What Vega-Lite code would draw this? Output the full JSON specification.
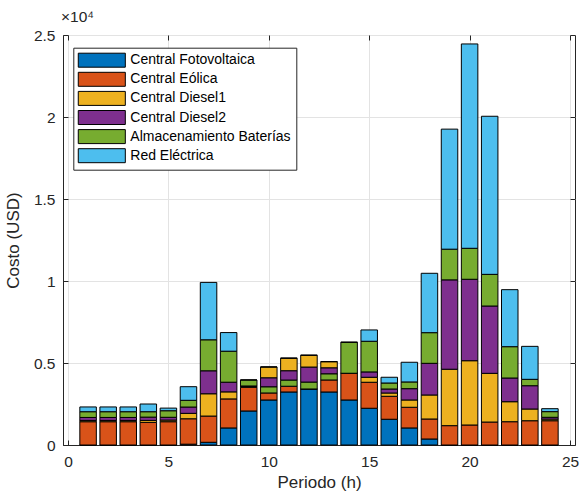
{
  "$schema": "https://vega.github.io/schema/vega-lite/v6.json",
  "width": 512,
  "height": 410,
  "autosize": {"type": "none"},
  "padding": {"left": 63, "top": 35, "right": 10, "bottom": 51},
  "background": "white",
  "config": {
    "font": "Liberation Sans",
    "view": {"stroke": "#262626", "strokeWidth": 1},
    "axis": {
      "domainColor": "#262626",
      "tickColor": "#262626",
      "labelColor": "#262626",
      "titleColor": "#262626",
      "labelFont": "Liberation Sans",
      "titleFont": "Liberation Sans",
      "labelFontSize": 15.5,
      "titleFontSize": 17,
      "titleFontWeight": "normal",
      "gridColor": "#e3e3e3",
      "gridWidth": 1,
      "tickSize": -5
    }
  },
  "title": {
    "text": "×10⁴",
    "anchor": "start",
    "frame": "group",
    "fontSize": 15.5,
    "fontWeight": "normal",
    "color": "#262626",
    "font": "Liberation Sans",
    "offset": 3,
    "dx": -2
  },
  "data": {
    "values": [
      {"Periodo": 1, "Central Fotovoltaica": 0, "Central Eólica": 1420, "Central Diesel1": 80, "Central Diesel2": 180, "Almacenamiento Baterías": 350, "Red Eléctrica": 290},
      {"Periodo": 2, "Central Fotovoltaica": 0, "Central Eólica": 1420, "Central Diesel1": 80, "Central Diesel2": 180, "Almacenamiento Baterías": 350, "Red Eléctrica": 290},
      {"Periodo": 3, "Central Fotovoltaica": 0, "Central Eólica": 1420, "Central Diesel1": 80, "Central Diesel2": 180, "Almacenamiento Baterías": 350, "Red Eléctrica": 290},
      {"Periodo": 4, "Central Fotovoltaica": 0, "Central Eólica": 1380, "Central Diesel1": 120, "Central Diesel2": 200, "Almacenamiento Baterías": 330, "Red Eléctrica": 470},
      {"Periodo": 5, "Central Fotovoltaica": 0, "Central Eólica": 1420, "Central Diesel1": 100, "Central Diesel2": 170, "Almacenamiento Baterías": 400, "Red Eléctrica": 160},
      {"Periodo": 6, "Central Fotovoltaica": 50, "Central Eólica": 1550, "Central Diesel1": 330, "Central Diesel2": 385, "Almacenamiento Baterías": 410, "Red Eléctrica": 830},
      {"Periodo": 7, "Central Fotovoltaica": 165, "Central Eólica": 1600, "Central Diesel1": 1360, "Central Diesel2": 1400, "Almacenamiento Baterías": 1890, "Red Eléctrica": 3500},
      {"Periodo": 8, "Central Fotovoltaica": 1040, "Central Eólica": 1770, "Central Diesel1": 430, "Central Diesel2": 590, "Almacenamiento Baterías": 1890, "Red Eléctrica": 1135},
      {"Periodo": 9, "Central Fotovoltaica": 2075, "Central Eólica": 1445, "Central Diesel1": 40, "Central Diesel2": 40, "Almacenamiento Baterías": 365, "Red Eléctrica": 0},
      {"Periodo": 10, "Central Fotovoltaica": 2745, "Central Eólica": 427, "Central Diesel1": 670, "Central Diesel2": 550, "Almacenamiento Baterías": 366, "Red Eléctrica": 0},
      {"Periodo": 11, "Central Fotovoltaica": 3233, "Central Eólica": 350, "Central Diesel1": 775, "Central Diesel2": 570, "Almacenamiento Baterías": 366, "Red Eléctrica": 0},
      {"Periodo": 12, "Central Fotovoltaica": 3416, "Central Eólica": 0, "Central Diesel1": 732, "Central Diesel2": 915, "Almacenamiento Baterías": 410, "Red Eléctrica": 0},
      {"Periodo": 13, "Central Fotovoltaica": 3233, "Central Eólica": 732, "Central Diesel1": 385, "Central Diesel2": 365, "Almacenamiento Baterías": 366, "Red Eléctrica": 0},
      {"Periodo": 14, "Central Fotovoltaica": 2745, "Central Eólica": 1630, "Central Diesel1": 0, "Central Diesel2": 0, "Almacenamiento Baterías": 1890, "Red Eléctrica": 0},
      {"Periodo": 15, "Central Fotovoltaica": 2240, "Central Eólica": 1586, "Central Diesel1": 305, "Central Diesel2": 325, "Almacenamiento Baterías": 1870, "Red Eléctrica": 690},
      {"Periodo": 16, "Central Fotovoltaica": 1570, "Central Eólica": 1400, "Central Diesel1": 200, "Central Diesel2": 245, "Almacenamiento Baterías": 366, "Red Eléctrica": 350},
      {"Periodo": 17, "Central Fotovoltaica": 1040, "Central Eólica": 1260, "Central Diesel1": 445, "Central Diesel2": 690, "Almacenamiento Baterías": 410, "Red Eléctrica": 1200},
      {"Periodo": 18, "Central Fotovoltaica": 366, "Central Eólica": 1220, "Central Diesel1": 1464, "Central Diesel2": 1930, "Almacenamiento Baterías": 1870, "Red Eléctrica": 3620},
      {"Periodo": 19, "Central Fotovoltaica": 0, "Central Eólica": 1180, "Central Diesel1": 3440, "Central Diesel2": 5450, "Almacenamiento Baterías": 1870, "Red Eléctrica": 7320},
      {"Periodo": 20, "Central Fotovoltaica": 0, "Central Eólica": 1220, "Central Diesel1": 3920, "Central Diesel2": 4965, "Almacenamiento Baterías": 1890, "Red Eléctrica": 12460},
      {"Periodo": 21, "Central Fotovoltaica": 0, "Central Eólica": 1400, "Central Diesel1": 2970, "Central Diesel2": 4105, "Almacenamiento Baterías": 1930, "Red Eléctrica": 9640},
      {"Periodo": 22, "Central Fotovoltaica": 0, "Central Eólica": 1420, "Central Diesel1": 1220, "Central Diesel2": 1445, "Almacenamiento Baterías": 1910, "Red Eléctrica": 3477},
      {"Periodo": 23, "Central Fotovoltaica": 0, "Central Eólica": 1480, "Central Diesel1": 715, "Central Diesel2": 1420, "Almacenamiento Baterías": 390, "Red Eléctrica": 2010},
      {"Periodo": 24, "Central Fotovoltaica": 0, "Central Eólica": 1480, "Central Diesel1": 100, "Central Diesel2": 110, "Almacenamiento Baterías": 345, "Red Eléctrica": 180}
    ]
  },
  "transform": [
    {"fold": ["Central Fotovoltaica", "Central Eólica", "Central Diesel1", "Central Diesel2", "Almacenamiento Baterías", "Red Eléctrica"], "as": ["Fuente", "Costo"]},
    {"calculate": "(datum.Periodo >= 10 && datum.Periodo <= 13) ? indexof(['Central Fotovoltaica', 'Central Eólica', 'Almacenamiento Baterías', 'Central Diesel2', 'Central Diesel1', 'Red Eléctrica'], datum.Fuente) : indexof(['Central Fotovoltaica', 'Central Eólica', 'Central Diesel1', 'Central Diesel2', 'Almacenamiento Baterías', 'Red Eléctrica'], datum.Fuente)", "as": "orden"}
  ],
  "layer": [
    {
      "mark": {"type": "bar", "width": 16.5, "stroke": "black", "strokeWidth": 1, "opacity": 1},
      "encoding": {
        "x": {
          "field": "Periodo",
          "type": "quantitative",
          "scale": {"domain": [0, 25], "nice": false, "zero": false},
          "axis": {"values": [0, 5, 10, 15, 20, 25], "title": "Periodo (h)", "labelPadding": 14, "titlePadding": 5, "grid": true}
        },
        "y": {
          "field": "Costo",
          "type": "quantitative",
          "stack": "zero",
          "scale": {"domain": [0, 25000], "nice": false},
          "axis": {"values": [0, 5000, 10000, 15000, 20000, 25000], "labelExpr": "datum.value / 10000", "title": "Costo (USD)", "labelPadding": 13, "titlePadding": 11, "grid": true}
        },
        "color": {
          "field": "Fuente",
          "type": "nominal",
          "sort": ["Central Fotovoltaica", "Central Eólica", "Central Diesel1", "Central Diesel2", "Almacenamiento Baterías", "Red Eléctrica"],
          "scale": {
            "domain": ["Central Fotovoltaica", "Central Eólica", "Central Diesel1", "Central Diesel2", "Almacenamiento Baterías", "Red Eléctrica"],
            "range": ["#0072BD", "#D95319", "#EDB120", "#7E2F8E", "#77AC30", "#4DBEEE"]
          },
          "legend": {
            "title": null,
            "orient": "none",
            "legendX": 10.3,
            "legendY": 12.7,
            "symbolType": "M-3.36,-1H3.36V1H-3.36Z",
            "symbolSize": 196,
            "symbolOffset": 16,
            "symbolStrokeColor": "black",
            "symbolStrokeWidth": 1,
            "symbolOpacity": 1,
            "labelFontSize": 14,
            "labelFont": "Liberation Sans",
            "labelColor": "black",
            "labelLimit": 300,
            "labelOffset": 21,
            "rowPadding": 0.1,
            "padding": 5,
            "strokeColor": "#262626",
            "fillColor": "white"
          }
        },
        "order": {"field": "orden", "type": "quantitative", "sort": "ascending"}
      }
    },
    {
      "mark": {"type": "point", "opacity": 0},
      "encoding": {
        "x": {
          "field": "Periodo",
          "type": "quantitative",
          "axis": {"orient": "top", "values": [0, 5, 10, 15, 20, 25], "labels": false, "title": null, "grid": false, "domain": false}
        },
        "y": {
          "field": "Costo",
          "type": "quantitative",
          "axis": {"orient": "right", "values": [0, 5000, 10000, 15000, 20000, 25000], "labels": false, "title": null, "grid": false, "domain": false}
        }
      }
    }
  ],
  "resolve": {"axis": {"x": "independent", "y": "independent"}}
}
